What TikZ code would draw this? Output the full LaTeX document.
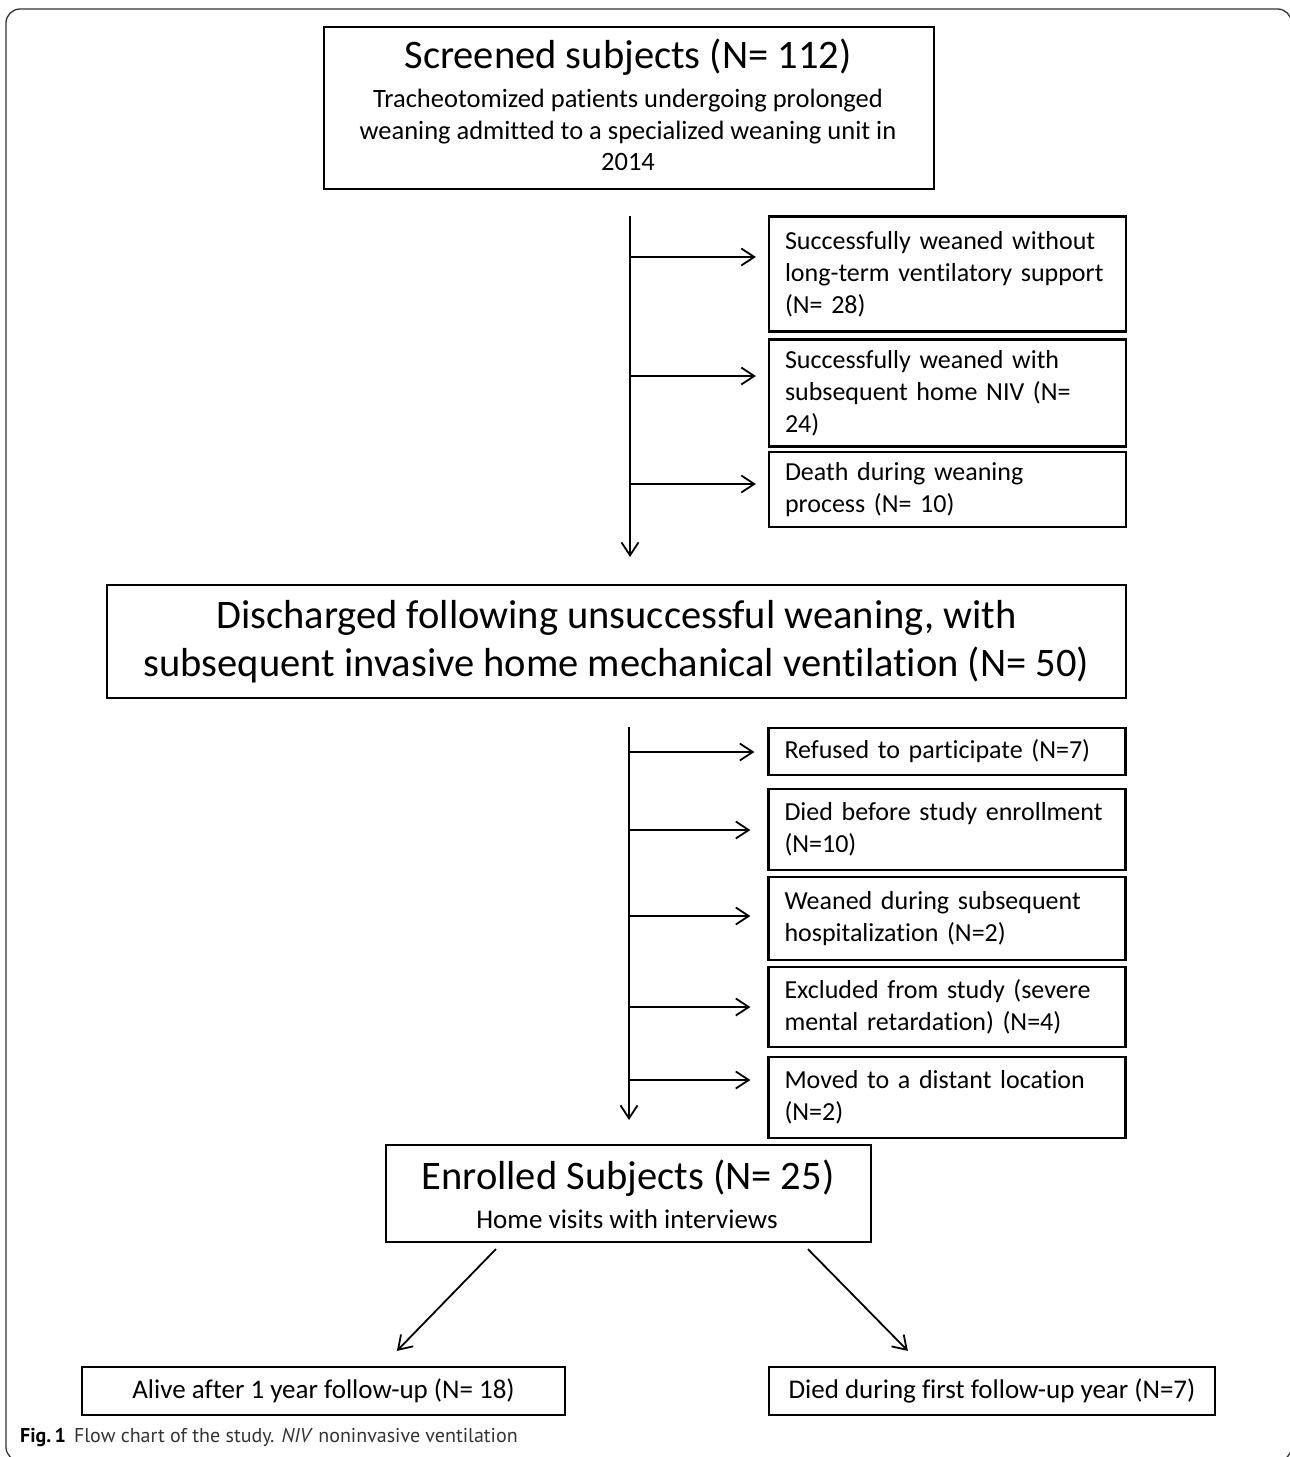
\documentclass[tikz,border=0pt]{standalone}
\usepackage{fontspec}
\setmainfont{Carlito}[Ligatures=NoCommon]
\newfontfamily\capfont{PT Sans}
\usetikzlibrary{arrows.meta,calc}
\tikzset{
  box/.style={draw, line width=2.2pt, inner sep=0pt},
  sbox/.style={box, align=left, text width=325pt, inner xsep=16pt, inner ysep=0pt,
               font=\fontsize{26}{32}\selectfont},
  arr/.style={line width=1.8pt, -{Straight Barb[length=13pt,width=17pt]}},
  big/.style={font=\fontsize{40.5}{48}\selectfont, inner sep=0pt},
}
\begin{document}
\hyphenpenalty=10000
\exhyphenpenalty=10000
\begin{tikzpicture}[x=1pt,y=-1pt]
\useasboundingbox (0,0) rectangle (1290,1457);
\fill[white] (0,0) rectangle (1290,1457);
% outer frame
\draw[line width=1.3pt, black!80, rounded corners=14pt] (6,9) rectangle (1291.5,1461);

% top box
\node[box, minimum width=610pt, minimum height=162pt] (S) at (629,108) {};
\node[big] (St) at (628,57) {Screened subjects (N= 112)};
\node[align=center, inner sep=0pt, font=\fontsize{26.5}{31.5}\selectfont] (Ss) at (628,130)
  {Tracheotomized patients undergoing prolonged\\weaning admitted to a specialized weaning unit in\\2014};

% first side boxes
\node[sbox, minimum height=115pt] (A) at (947.5,274)
  {Successfully weaned without long-term ventilatory support (N= 28)};
\node[sbox, minimum height=107pt] (B) at (947.5,393)
  {Successfully weaned with subsequent home NIV (N= 24)};
\node[sbox, minimum height=75pt] (C) at (947.5,489.5)
  {Death during weaning process (N= 10)};

\coordinate (t1a) at (630,216);
\coordinate (t1b) at (630,557);
\coordinate (a1) at (630,257);
\coordinate (a2) at (630,376);
\coordinate (a3) at (630,484);
\draw[arr] (t1a) -- (t1b);
\draw[arr] (a1) -- ($(A.west)+(-12,-17)$);
\draw[arr] (a2) -- ($(B.west)+(-12,-17)$);
\draw[arr] (a3) -- ($(C.west)+(-12,-5.5)$);

% discharged box
\node[box, minimum width=1019pt, minimum height=113pt, align=center,
      font=\fontsize{40.5}{48}\selectfont] (D) at (616.5,641.5)
  {Discharged following unsuccessful weaning, with\\subsequent invasive home mechanical ventilation (N= 50)};

% second side boxes
\node[sbox, minimum height=47pt] (R) at (947,751.5) {Refused to participate (N=7)};
\node[sbox, minimum height=81pt] (Di) at (947,829.5) {Died before study enrollment (N=10)};
\node[sbox, minimum height=83pt] (W) at (947,918.5) {Weaned during subsequent hospitalization (N=2)};
\node[sbox, minimum height=80pt] (X) at (947,1007) {Excluded from study (severe mental retardation) (N=4)};
\node[sbox, minimum height=81pt] (M) at (947,1097.5) {Moved to a distant location (N=2)};

\coordinate (t2a) at (629,727);
\coordinate (t2b) at (629,1120);
\coordinate (b1) at (629,752);
\coordinate (b2) at (629,830);
\coordinate (b3) at (629,916);
\coordinate (b4) at (629,1007);
\coordinate (b5) at (629,1080);
\draw[arr] (t2a) -- (t2b);
\draw[arr] (b1) -- ($(R.west)+(-13,0.5)$);
\draw[arr] (b2) -- ($(Di.west)+(-17,0.5)$);
\draw[arr] (b3) -- ($(W.west)+(-17,-2.5)$);
\draw[arr] (b4) -- ($(X.west)+(-17,0)$);
\draw[arr] (b5) -- ($(M.west)+(-17,-17.5)$);

% enrolled
\node[box, minimum width=485pt, minimum height=97pt] (E) at (628.5,1193.5) {};
\node[big] (Et) at (628,1178) {Enrolled Subjects (N= 25)};
\node[inner sep=0pt, font=\fontsize{27}{32}\selectfont] (Es) at (627,1219) {Home visits with interviews};

% bottom boxes
\node[box, minimum width=483pt, minimum height=48pt, font=\fontsize{27}{32}\selectfont] (L) at (323.5,1391)
  {Alive after 1 year follow-up (N= 18)};
\node[box, minimum width=446pt, minimum height=48pt, font=\fontsize{27}{32}\selectfont] (Rt) at (992,1391)
  {Died during first follow-up year (N=7)};

\draw[arr] ($(E.south west)+(111,6)$) -- ($(L.north west)+(316,-15)$);
\draw[arr] ($(E.south west)+(423,6)$) -- ($(Rt.north west)+(140,-15)$);

% caption
\node[anchor=west, inner sep=0pt, font=\capfont\fontsize{20}{24}\selectfont, text=black!80] (cap) at (20,1437)
  {\textcolor{black}{\textbf{Fig.\,1}}\hspace{8pt}Flow chart of the study. \textit{NIV} noninvasive ventilation};
\end{tikzpicture}
\end{document}
